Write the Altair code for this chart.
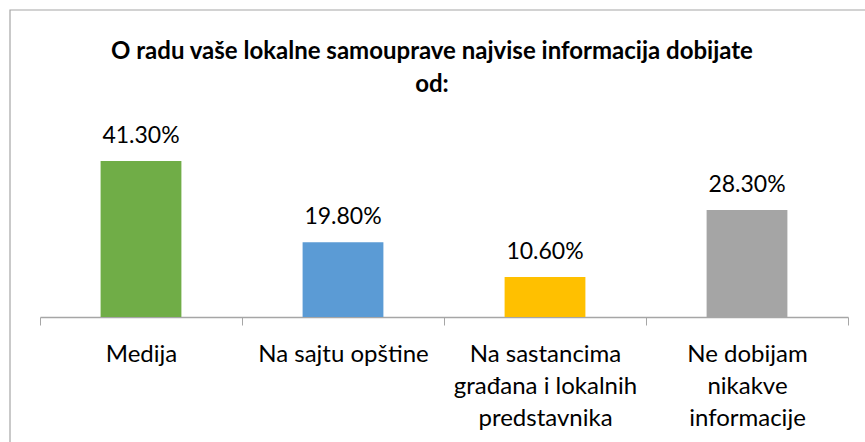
import altair as alt
import pandas as pd

categories = [
    "Medija",
    "Na sajtu opštine",
    "Na sastancima|građana i lokalnih|predstavnika",
    "Ne dobijam|nikakve|informacije",
]
values = [41.3, 19.8, 10.6, 28.3]
value_labels = ["41.30%", "19.80%", "10.60%", "28.30%"]
colors = ["#70AD47", "#5B9BD5", "#FFC000", "#A5A5A5"]
title_lines = ["O radu vaše lokalne samouprave najvise informacija dobijate", "od:"]

df = pd.DataFrame({"cat": categories, "val": values, "lab": value_labels, "col": colors})

FONT = "Lato"
W, H = 808, 170

x_enc = alt.X(
    "cat:N",
    sort=categories,
    scale=alt.Scale(paddingInner=0, paddingOuter=0),
    axis=alt.Axis(
        title=None,
        labelAngle=0,
        labelExpr="split(datum.label, '|')",
        labelFont=FONT,
        labelFontSize=24,
        labelColor="#000000",
        labelLineHeight=32,
        labelPadding=17,
        labelBaseline="top",
        labelLimit=0,
        tickBand="extent",
        tickSize=8,
        tickColor="#A6A6A6",
        domainColor="#A6A6A6",
        domainWidth=1.5,
        tickWidth=1,
        grid=False,
    ),
)
y_enc = alt.Y("val:Q", scale=alt.Scale(domain=[0, 45]), axis=None)

bars = alt.Chart(df).mark_bar(width=alt.RelativeBandSize(0.4)).encode(
    x=x_enc, y=y_enc, color=alt.Color("col:N", scale=None)
)
text = alt.Chart(df).mark_text(
    baseline="bottom", dy=-13, font=FONT, fontSize=23, color="#000000"
).encode(x=alt.X("cat:N", sort=categories), y="val:Q", text="lab:N")

frame = alt.Chart(pd.DataFrame({"a": [0]})).mark_rect(
    fill=None, stroke="#A6A6A6", strokeWidth=1.2
).encode(
    x=alt.value(-30), x2=alt.value(W + 200), y=alt.value(-137), y2=alt.value(H + 300)
)

chart = (
    alt.layer(frame, bars, text)
    .properties(
        width=W,
        height=H,
        autosize=alt.AutoSizeParams(type="none"),
        padding={"left": 40, "top": 147, "right": 17, "bottom": 125},
        title=alt.TitleParams(
            text=title_lines,
            font=FONT,
            fontSize=24,
            fontWeight="bold",
            color="#000000",
            anchor="middle",
            dx=-12,
            offset=-88,
            lineHeight=33,
        ),
    )
    .configure(background="white")
    .configure_view(strokeWidth=0, stroke="transparent")
)

chart.save("out.html", embed_options={"renderer": "svg", "actions": False})
